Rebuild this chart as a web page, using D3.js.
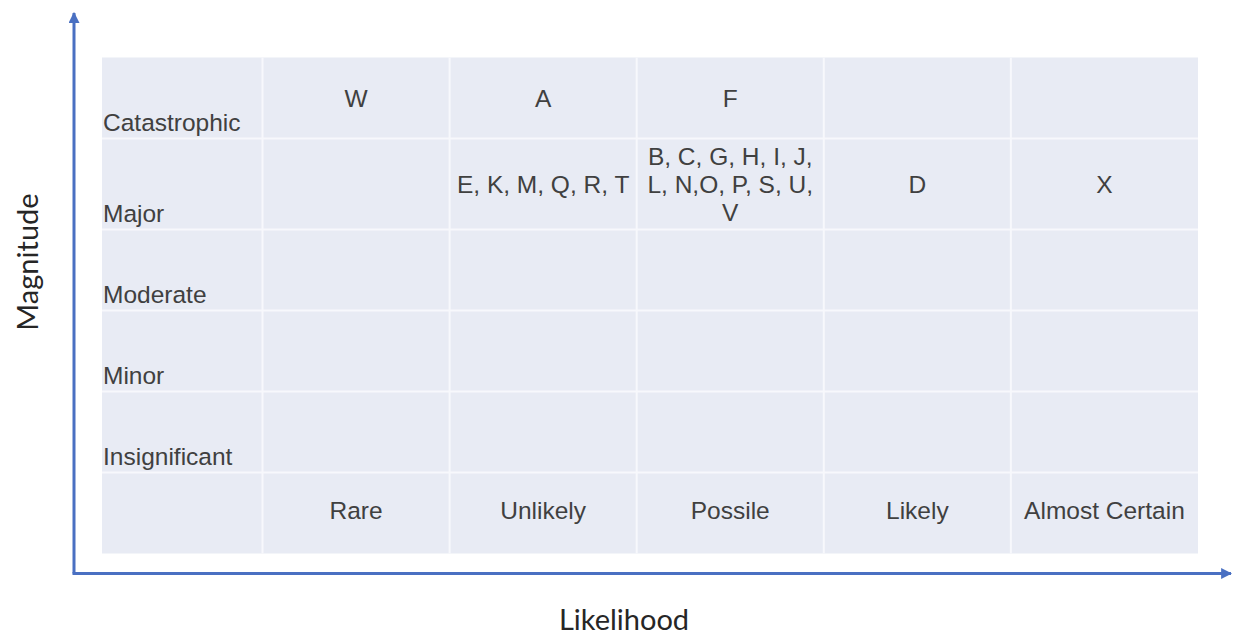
<html>
<head>
    <script src="https://d3js.org/d3.v7.min.js"></script>
    <style type="text/css">
        body { margin: 0; background: #fff; }
        text.cell, text.rowlab, text.collab {
            font-family: "Liberation Sans", Arial, sans-serif;
            font-size: 24.5px;
            fill: #404040;
        }
        text.title {
            font-family: Lato, "Open Sans", sans-serif;
            font-size: 29px;
            fill: #262626;
        }
    </style>
</head>
<body>
    <svg id="chart"></svg>

    <script>
        var Likelihood = ["Rare", "Unlikely", "Possile", "Likely", "Almost Certain"];
        var Magnitude = ["Catastrophic", "Major", "Moderate", "Minor", "Insignificant"];

        // which risk letters sit in which cell, one entry per text line
        var Risks = [
            { likelihood: "Rare",           magnitude: "Catastrophic", lines: ["W"] },
            { likelihood: "Unlikely",       magnitude: "Catastrophic", lines: ["A"] },
            { likelihood: "Possile",        magnitude: "Catastrophic", lines: ["F"] },
            { likelihood: "Unlikely",       magnitude: "Major",        lines: ["E, K, M, Q, R, T"] },
            { likelihood: "Possile",        magnitude: "Major",        lines: ["B, C, G, H, I, J,", "L, N,O, P, S, U,", "V"] },
            { likelihood: "Likely",         magnitude: "Major",        lines: ["D"] },
            { likelihood: "Almost Certain", magnitude: "Major",        lines: ["X"] }
        ];

        var Width = 1239, Height = 637;
        var GridLeft = 102, LabelCol = 160.5, GridRight = 1198, GridTop = 57.5;
        var LineH = 28, MinRow = 81;
        var AxisX = 74, AxisY = 573.5;
        var Blue = "#4a70c2";

        var svg = d3.select("#chart").attr("width", Width).attr("height", Height);

        // rows: the magnitudes, then a bottom row holding the likelihood names
        var rows = Magnitude.concat(["__lik"]);
        var rowHeights = rows.map(function(r){
            var n = d3.max(Risks.filter(function(d){ return d.magnitude == r; }),
                           function(d){ return d.lines.length; }) || 1;
            return Math.max(MinRow, n*LineH + 7);
        });
        var tops = [GridTop].concat(Array.from(d3.cumsum(rowHeights)).map(function(v){ return GridTop + v; }));
        var yTop = d3.scaleOrdinal().domain(rows).range(tops.slice(0, rows.length));
        var yH = d3.scaleOrdinal().domain(rows).range(rowHeights);
        var GridBottom = tops[tops.length-1];

        var x = d3.scaleBand()
            .domain(Likelihood)
            .range([GridLeft + LabelCol, GridRight])
            .paddingInner(0);

        // background
        svg.append("rect")
            .attr("x", GridLeft).attr("y", GridTop)
            .attr("width", GridRight - GridLeft).attr("height", GridBottom - GridTop)
            .attr("fill", "#e8ebf4");

        // grid lines
        var g = svg.append("g").attr("stroke", "#f7f8fc").attr("stroke-width", 2);
        g.selectAll(".vl").data(Likelihood).enter().append("line")
            .attr("x1", function(d){ return x(d); }).attr("x2", function(d){ return x(d); })
            .attr("y1", GridTop).attr("y2", GridBottom);
        g.selectAll(".hl").data(rows.slice(1)).enter().append("line")
            .attr("x1", GridLeft).attr("x2", GridRight)
            .attr("y1", function(d){ return yTop(d); }).attr("y2", function(d){ return yTop(d); });

        // row labels, bottom-left of each row
        svg.selectAll(".rowlab").data(Magnitude).enter().append("text").classed("rowlab", true)
            .attr("x", GridLeft + 1)
            .attr("y", function(d){ return yTop(d) + yH(d) - 7.5; })
            .text(function(d){ return d; });

        // likelihood labels in bottom row
        svg.selectAll(".collab").data(Likelihood).enter().append("text").classed("collab", true)
            .attr("x", function(d){ return x(d) + x.bandwidth()/2; })
            .attr("y", yTop("__lik") + yH("__lik")/2 - 2.5)
            .attr("text-anchor", "middle")
            .attr("dy", "0.35em")
            .text(function(d){ return d; });

        // cell contents
        var cells = svg.selectAll(".cell").data(Risks).enter().append("text").classed("cell", true)
            .attr("text-anchor", "middle")
            .attr("x", function(d){ return x(d.likelihood) + x.bandwidth()/2; })
            .attr("y", function(d){ return yTop(d.magnitude) + yH(d.magnitude)/2; });
        cells.selectAll("tspan").data(function(d){
                return d.lines.map(function(l, i){ return { t: l, i: i, n: d.lines.length, p: d }; });
            }).enter().append("tspan")
            .attr("x", function(d){ return x(d.p.likelihood) + x.bandwidth()/2; })
            .attr("dy", function(d){
                if (d.i == 0) return (0.35*24.5 - (d.n-1)*LineH/2) + "px";
                return LineH + "px";
            })
            .text(function(d){ return d.t; });

        // axes with arrows
        var defs = svg.append("defs");
        defs.append("marker")
            .attr("id", "arrow").attr("viewBox", "0 0 10 10")
            .attr("refX", 9).attr("refY", 5)
            .attr("markerUnits", "userSpaceOnUse")
            .attr("markerWidth", 11).attr("markerHeight", 11)
            .attr("orient", "auto")
            .append("path").attr("d", "M0,0 L10,5 L0,10 Z").attr("fill", Blue);

        svg.append("path")
            .attr("d", "M" + AxisX + "," + AxisY + " L" + AxisX + ",13")
            .attr("stroke", Blue).attr("stroke-width", 3).attr("fill", "none")
            .attr("marker-end", "url(#arrow)");
        svg.append("path")
            .attr("d", "M" + (AxisX - 1.5) + "," + AxisY + " L1231," + AxisY)
            .attr("stroke", Blue).attr("stroke-width", 3).attr("fill", "none")
            .attr("marker-end", "url(#arrow)");

        // axis titles
        svg.append("text").classed("title", true)
            .attr("x", 624).attr("y", 630)
            .attr("text-anchor", "middle")
            .text("Likelihood");
        svg.append("text").classed("title", true)
            .attr("transform", "translate(38,262) rotate(-90)")
            .attr("text-anchor", "middle")
            .text("Magnitude");
    </script>
</body>
</html>
